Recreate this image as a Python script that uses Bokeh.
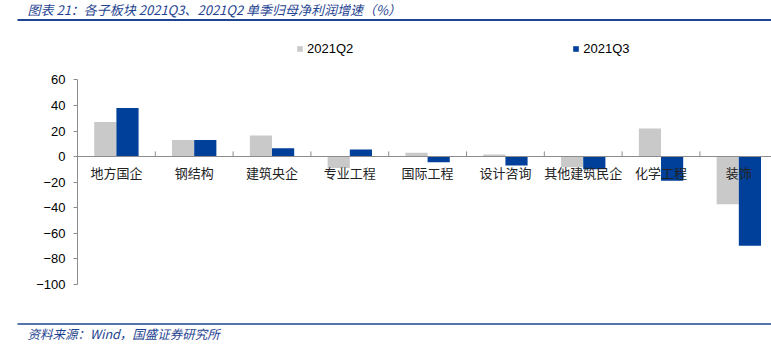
from bokeh.plotting import figure
from bokeh.layouts import column
from bokeh.models import (ColumnDataSource, Span, Legend, LegendItem, FixedTicker, Range1d)
from bokeh.core.properties import value
from bokeh.embed import file_html
from bokeh.resources import INLINE

categories = ["地方国企", "钢结构", "建筑央企", "专业工程", "国际工程", "设计咨询", "其他建筑民企", "化学工程", "装饰"]
q2 = [27, 13, 16.5, -9, 3, 1.5, -8.5, 22, -37.5]
q3 = [38, 13, 6.5, 5.5, -4.5, -7, -10, -19, -70]
y_ticks = [-100, -80, -60, -40, -20, 0, 20, 40, 60]

title_text = "图表 21：各子板块 2021Q3、2021Q2 单季归母净利润增速（%）"
source_text = "资料来源：Wind，国盛证券研究所"

GRAY = "#C9C9C9"
BLUE = "#00409A"
TBLUE = "#1F4491"
W = 771


def no_align(f):
    try:
        f.frame_align = False
    except Exception:
        pass
    return f


def banner(height, y0, y1):
    f = figure(width=W, height=height, output_backend="svg", toolbar_location=None,
               x_range=Range1d(0, W), y_range=Range1d(y1, y0), min_border=0,
               x_axis_location=None, y_axis_location=None)
    f.outline_line_color = None
    f.xgrid.visible = False
    f.ygrid.visible = False
    return no_align(f)


# ---- title strip (canvas rows 0..30)
top = banner(30, 0, 30)
top.text(x=[27], y=[8.5], text=[title_text], text_baseline="middle", text_align="left",
         text_font=value("Noto Sans CJK SC"), text_font_size="13px", text_font_style="italic",
         text_color=TBLUE)
top.segment(x0=[17], y0=[19.5], x1=[W], y1=[19.5], line_color=TBLUE, line_width=2)

# ---- main chart (canvas rows 30..300)
n = len(categories)
xs = [i + 0.5 for i in range(n)]
bw = 0.285
src = ColumnDataSource(dict(x2=[x - bw / 2 for x in xs], x3=[x + bw / 2 for x in xs],
                            q2=q2, q3=q3, xc=xs, cat=categories))

p = figure(width=W, height=270, output_backend="svg", toolbar_location=None,
           x_range=Range1d(0, 8.92), y_range=Range1d(-112.9, 98.8),
           min_border_left=77, min_border_right=0, min_border_top=0, min_border_bottom=0)
no_align(p)
p.outline_line_color = None
p.xgrid.visible = False
p.ygrid.visible = False
p.xaxis.visible = False

r2 = p.vbar(x="x2", top="q2", width=bw, source=src, fill_color=GRAY, line_color=None)
r3 = p.vbar(x="x3", top="q3", width=bw, source=src, fill_color=BLUE, line_color=None)

p.add_layout(Span(location=0, dimension="width", line_color="#8C8C8C", line_width=1))
p.segment(x0=list(range(1, n + 1)), y0=[0] * n, x1=list(range(1, n + 1)), y1=[4] * n,
          line_color="#8C8C8C", line_width=1)

p.text(x="xc", y=-12.5, text="cat", source=src, text_align="center", text_baseline="middle",
       text_font=value("Noto Sans CJK SC"), text_font_size="13px", text_color="#222222")

ya = p.yaxis[0]
ya.ticker = FixedTicker(ticks=y_ticks)
ya.bounds = (-100, 60)
ya.axis_line_color = "#8C8C8C"
ya.major_tick_line_color = "#8C8C8C"
ya.major_tick_out = 4
ya.major_tick_in = 0
ya.minor_tick_line_color = None
ya.major_label_text_font = "Liberation Sans"
ya.major_label_text_font_size = "13px"
ya.major_label_text_color = "#000000"
ya.major_label_standoff = 8

legend = Legend(items=[LegendItem(label="2021Q2", renderers=[r2]),
                       LegendItem(label="2021Q3", renderers=[r3])],
                orientation="horizontal", location=(219, 244), spacing=219,
                glyph_width=7, glyph_height=7, label_standoff=4, label_height=14,
                padding=0, margin=0, border_line_color=None, background_fill_alpha=0,
                label_text_font="Liberation Sans", label_text_font_size="13px",
                label_text_color="#000000")
p.add_layout(legend)

# ---- source strip (canvas rows 300..351)
bot = banner(51, 300, 351)
bot.segment(x0=[17], y0=[323.5], x1=[W], y1=[323.5], line_color=TBLUE, line_width=1.5)
bot.text(x=[27], y=[333], text=[source_text], text_baseline="middle", text_align="left",
         text_font=value("Noto Sans CJK SC"), text_font_size="12.5px", text_font_style="italic",
         text_color=TBLUE)

layout = column(top, p, bot, spacing=0)
open("out.html", "w").write(file_html(layout, INLINE))
